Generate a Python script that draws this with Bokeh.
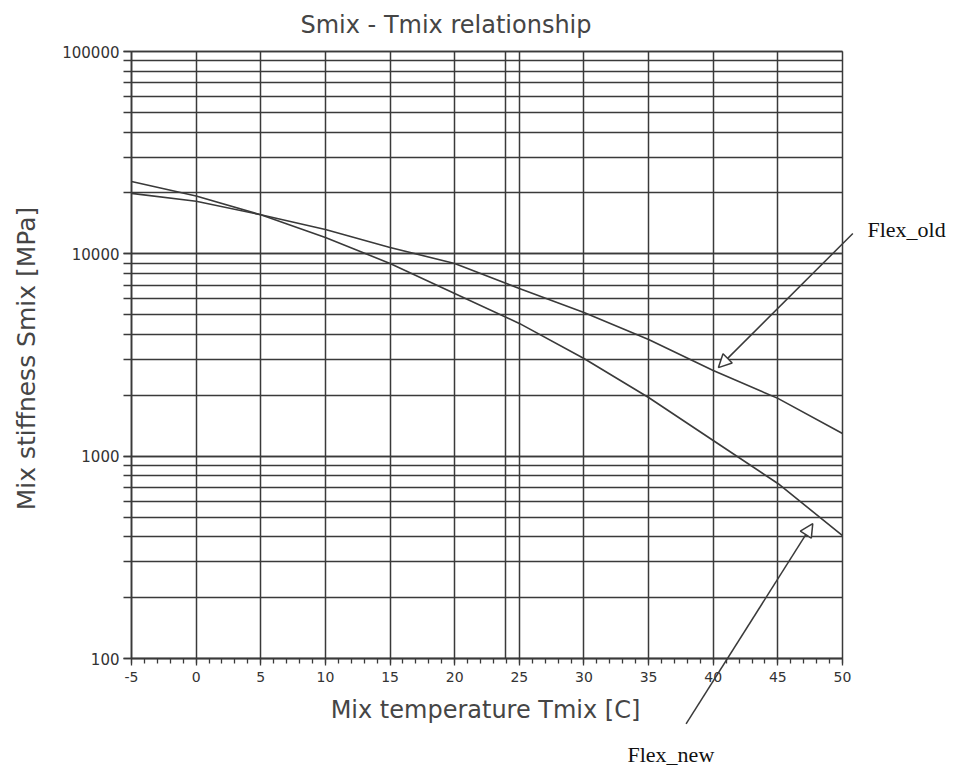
import math
from bokeh.plotting import figure
from bokeh.models import (Range1d, LogTicker, SingleIntervalTicker, FixedTicker,
                          PrintfTickFormatter, Arrow, NormalHead, Label)
from bokeh.embed import file_html
from bokeh.resources import INLINE

# ---- data ----
temps = [-5, 0, 5, 10, 15, 20, 25, 30, 35, 40, 45, 50]
flex_old = [19900, 18200, 15600, 13200, 10750, 8960, 6740, 5130, 3770, 2650, 1930, 1294]
flex_new = [22800, 19300, 15600, 12050, 8960, 6370, 4530, 3040, 1950, 1195, 733, 405]
x_major_ticks = [-5, 0, 5, 10, 15, 20, 25, 30, 35, 40, 45, 50]
x_extra_grid = [23.9]          # doubled vertical line visible in the scan
y_tick_values = [100, 1000, 10000, 100000]

# annotation positions (data coordinates)
old_arrow = dict(x_start=50.8, y_start=12600, x_end=40.4, y_end=2740)
new_arrow = dict(x_start=37.9, y_start=47.5, x_end=47.7, y_end=464)

INK = "#3a3a3a"
TXT = "#454545"
SANS = "DejaVu Sans"
SERIF = "Liberation Serif"

# page geometry of the chart box (pixels)
W, H = 955, 767
BOX_L, BOX_R, BOX_T, BOX_B = 131, 842, 51, 658
px_per_deg = (BOX_R - BOX_L) / (x_major_ticks[-1] - x_major_ticks[0])
px_per_decade = (BOX_B - BOX_T) / math.log10(y_tick_values[-1] / y_tick_values[0])
x0 = x_major_ticks[0] - BOX_L / px_per_deg
x1 = x_major_ticks[0] + (W - BOX_L) / px_per_deg
ly_top = math.log10(y_tick_values[-1]) + BOX_T / px_per_decade
ly_bot = math.log10(y_tick_values[-1]) - (H - BOX_T) / px_per_decade

p = figure(width=W, height=H,
           x_range=Range1d(x0, x1), y_range=Range1d(10 ** ly_bot, 10 ** ly_top),
           y_axis_type="log", output_backend="svg", toolbar_location=None,
           min_border=0, min_border_left=0, min_border_right=0,
           min_border_top=0, min_border_bottom=0,
           background_fill_color="white", border_fill_color="white")
p.title.text = ""
p.outline_line_color = None

# x axis, drawn on the S = 100 line
xa = p.xaxis[0]
xa.ticker = SingleIntervalTicker(interval=5, num_minor_ticks=5)
xa.formatter = PrintfTickFormatter(format="%d")
xa.fixed_location = y_tick_values[0]
xa.bounds = (x_major_ticks[0], x_major_ticks[-1])
xa.major_label_text_font = SANS
xa.major_label_text_font_size = "14px"
xa.major_label_text_color = "#333333"
xa.major_label_standoff = 6
xa.major_tick_out = 7
xa.major_tick_in = 0
xa.minor_tick_out = 5
xa.minor_tick_in = 0
xa.axis_line_color = INK
xa.axis_line_width = 1.6
xa.major_tick_line_color = INK
xa.minor_tick_line_color = INK
xa.major_tick_line_width = 1.3
xa.minor_tick_line_width = 1.3

# y axis, drawn on the T = -5 line
ya = p.yaxis[0]
ya.ticker = LogTicker(num_minor_ticks=10)
ya.formatter = PrintfTickFormatter(format="%d")
ya.fixed_location = x_major_ticks[0]
ya.bounds = (y_tick_values[0], y_tick_values[-1])
ya.major_label_text_font = SANS
ya.major_label_text_font_size = "15px"
ya.major_label_text_color = "#333333"
ya.major_label_standoff = 4
ya.major_tick_out = 8
ya.major_tick_in = 0
ya.minor_tick_out = 8
ya.minor_tick_in = 0
ya.axis_line_color = INK
ya.axis_line_width = 1.6
ya.major_tick_line_color = INK
ya.minor_tick_line_color = INK
ya.major_tick_line_width = 1.3
ya.minor_tick_line_width = 1.3

# grids limited to the chart box
p.xgrid.ticker = FixedTicker(ticks=x_major_ticks + x_extra_grid)
p.xgrid.cross_bounds = (y_tick_values[0], y_tick_values[-1])
p.xgrid.grid_line_color = INK
p.xgrid.grid_line_width = 1.5
p.ygrid.ticker = LogTicker(num_minor_ticks=10)
p.ygrid.bounds = (y_tick_values[0], y_tick_values[-1])
p.ygrid.cross_bounds = (x_major_ticks[0], x_major_ticks[-1])
p.ygrid.grid_line_color = INK
p.ygrid.grid_line_width = 1.5
p.ygrid.minor_grid_line_color = INK
p.ygrid.minor_grid_line_width = 1.4

# curves
p.line(temps, flex_old, line_color=INK, line_width=1.6)
p.line(temps, flex_new, line_color=INK, line_width=1.6)

# annotations
for arr in (old_arrow, new_arrow):
    p.add_layout(Arrow(end=NormalHead(size=13, line_color=INK, line_width=1.5,
                                      fill_color="white"),
                       line_color=INK, line_width=1.5, **arr))

def fx(page_x):
    return page_x

def fy(page_y):
    return H - page_y

p.add_layout(Label(x=fx(300), y=fy(38), x_units="screen", y_units="screen",
                   text="Smix - Tmix relationship", text_align="left",
                   text_font=SANS, text_font_size="24px", text_color=TXT))
p.add_layout(Label(x=fx(485), y=fy(723), x_units="screen", y_units="screen",
                   text="Mix temperature Tmix [C]", text_align="center",
                   text_font=SANS, text_font_size="24px", text_color=TXT))
p.add_layout(Label(x=fx(26), y=fy(358), x_units="screen", y_units="screen",
                   angle=math.pi / 2, text_align="center", text_baseline="middle",
                   text="Mix stiffness Smix [MPa]",
                   text_font=SANS, text_font_size="25px", text_color=TXT))
p.add_layout(Label(x=fx(867), y=fy(241), x_units="screen", y_units="screen",
                   text="Flex_old",
                   text_font=SERIF, text_font_size="22px", text_color="#111111"))
p.add_layout(Label(x=fx(627), y=fy(766), x_units="screen", y_units="screen",
                   text="Flex_new",
                   text_font=SERIF, text_font_size="22px", text_color="#111111"))

open("out.html", "w").write(file_html(p, INLINE))
